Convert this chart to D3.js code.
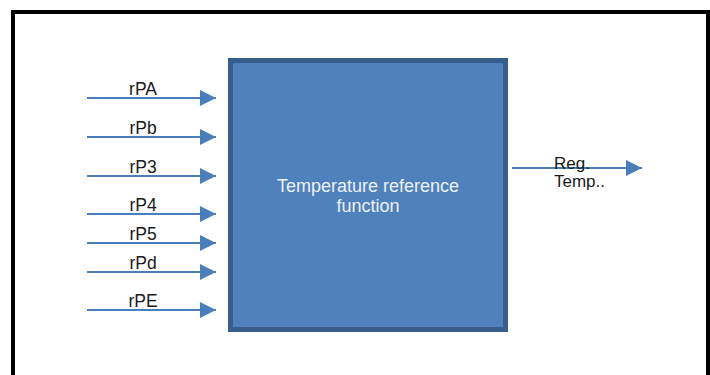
<!DOCTYPE html>
<html>
<head>
<meta charset="utf-8">
<script src="https://cdn.jsdelivr.net/npm/d3@7"></script>
<style>
  body { margin: 0; background: #fff; }
  svg { display: block; }
  text { font-family: "Liberation Sans", Arial, sans-serif; }
</style>
</head>
<body>
<div id="diagram"></div>
<script>
// dimensions of the page
var width = 710
var height = 375

// input signals and their rows (diagram units, 0 = top of the block)
var inputs = ["rPA", "rPb", "rP3", "rP4", "rP5", "rPd", "rPE"];
var inputRows = [38, 77, 116, 154, 183, 212, 250];

// block text and output signal
var blockLines = ["Temperature reference", "function"];
var output = ["Reg.", "Temp.."];
var outputRow = 108;

// colours
var lineColor = "#4A7EBB"
var boxFill = "#4F81BD"
var boxStroke = "#385D8A"

// scales: diagram units to pixels
var x = d3.scaleLinear().domain([0, 100]).range([230, 506])
var y = d3.scaleLinear().domain([0, 270]).range([60, 330])

var svg = d3.select("#diagram")
    .append("svg")
    .attr("width", width)
    .attr("height", height)

// arrow head marker
svg.append("defs")
    .append("marker")
    .attr("id", "head")
    .attr("viewBox", "0 0 16 16")
    .attr("refX", 16)
    .attr("refY", 8)
    .attr("markerUnits", "userSpaceOnUse")
    .attr("markerWidth", 16)
    .attr("markerHeight", 16)
    .attr("orient", "auto")
    .append("path")
    .attr("d", "M0,0 L16,8 L0,16 Z")
    .attr("fill", lineColor)

// outer frame
svg.append("path")
    .attr("d", "M13," + (height + 5) + " V12 H708 V" + (height + 5))
    .attr("fill", "none")
    .attr("stroke", "#000")
    .attr("stroke-width", 4)

// the block
svg.append("rect")
    .attr("x", x(0) + 0.5)
    .attr("y", y(0) + 0.5)
    .attr("width", x(100) - x(0) - 1)
    .attr("height", y(270) - y(0) - 1)
    .attr("fill", boxFill)
    .attr("stroke", boxStroke)
    .attr("stroke-width", 5)

svg.append("text")
    .attr("x", x(50))
    .attr("y", y(132))
    .attr("text-anchor", "middle")
    .attr("fill", "#EDF1F6")
    .style("font-size", "18px")
    .selectAll("tspan")
    .data(blockLines)
    .enter()
    .append("tspan")
    .attr("x", x(50))
    .attr("dy", function (d, i) { return i == 0 ? 0 : 20 })
    .text(function (d) { return d })

// input arrows
var rows = inputs.map(function (name, i) { return { name: name, row: inputRows[i] } })

var g = svg.selectAll(".input")
    .data(rows)
    .enter()
    .append("g")
    .attr("class", "input")

g.append("line")
    .attr("x1", 87)
    .attr("x2", 216)
    .attr("y1", function (d) { return y(d.row) })
    .attr("y2", function (d) { return y(d.row) })
    .attr("stroke", lineColor)
    .attr("stroke-width", 2)
    .attr("marker-end", "url(#head)")

g.append("text")
    .attr("x", 143)
    .attr("y", function (d) { return y(d.row) - 3.5 })
    .attr("text-anchor", "middle")
    .attr("fill", "#1a1a1a")
    .style("font-size", "17.5px")
    .text(function (d) { return d.name })

// output arrow
svg.append("line")
    .attr("x1", 512)
    .attr("x2", 642)
    .attr("y1", y(outputRow))
    .attr("y2", y(outputRow))
    .attr("stroke", lineColor)
    .attr("stroke-width", 2)
    .attr("marker-end", "url(#head)")

svg.append("text")
    .attr("x", 554)
    .attr("y", y(outputRow) + 1)
    .attr("fill", "#1a1a1a")
    .style("font-size", "17px")
    .selectAll("tspan")
    .data(output)
    .enter()
    .append("tspan")
    .attr("x", 554)
    .attr("dy", function (d, i) { return i == 0 ? 0 : 18 })
    .text(function (d) { return d })
</script>
</body>
</html>
